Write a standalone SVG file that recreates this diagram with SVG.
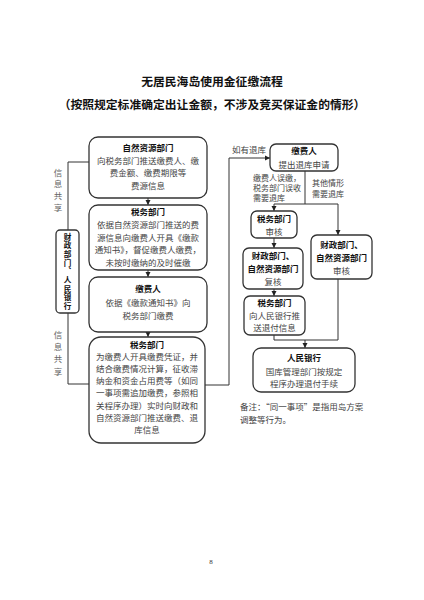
<svg xmlns="http://www.w3.org/2000/svg" width="424" height="600" viewBox="0 0 424 600">
<defs>
<style>
text{font-family:"Noto Sans CJK SC","Noto Sans",sans-serif;font-size:8.5px;fill:#444;}
.h{font-weight:bold;fill:#111;}
.c{text-anchor:middle;}
.s{font-size:8px;}
.t{font-size:11.8px;font-weight:bold;fill:#111;text-anchor:middle;}
.g{fill:#666;text-anchor:middle;}
.v{font-size:7.6px;writing-mode:vertical-rl;letter-spacing:1.1px;}
.box{fill:#fff;stroke:#333;stroke-width:1.3;}
.ln{fill:none;stroke:#333;stroke-width:1;}
</style>
<marker id="ah" markerWidth="6" markerHeight="6" refX="5" refY="3" orient="auto" markerUnits="userSpaceOnUse">
<path d="M0,0.5 L5,3 L0,5.5 Z" fill="#222"/>
</marker>
</defs>
<rect width="424" height="600" fill="#fff"/>
<g id="title">
<text class="t" x="212" y="86">无居民海岛使用金征缴流程</text>
<text class="t" x="212" y="109">（按照规定标准确定出让金额，不涉及竞买保证金的情形）</text>
</g>
<g id="connectors">
<line class="ln" x1="148" y1="198" x2="148" y2="205" marker-end="url(#ah)"/>
<line class="ln" x1="148" y1="270" x2="148" y2="277" marker-end="url(#ah)"/>
<line class="ln" x1="148" y1="332" x2="148" y2="337" marker-end="url(#ah)"/>
<polyline class="ln" points="89,162 68,162 68,230"/>
<polyline class="ln" points="68,313 68,384 89,384"/>
<polyline class="ln" points="205,385 229,385 229,158 270,158" marker-end="url(#ah)"/>
<polyline class="ln" points="305,171 305,204"/>
<line class="ln" x1="274" y1="204" x2="338" y2="204"/>
<line class="ln" x1="274" y1="204" x2="274" y2="211" marker-end="url(#ah)"/>
<line class="ln" x1="338" y1="204" x2="338" y2="235" marker-end="url(#ah)"/>
<line class="ln" x1="274" y1="238" x2="274" y2="248" marker-end="url(#ah)"/>
<line class="ln" x1="274" y1="289" x2="274" y2="296" marker-end="url(#ah)"/>
<polyline class="ln" points="274,335 274,340 338,340 338,279"/>
<line class="ln" x1="305" y1="340" x2="305" y2="348" marker-end="url(#ah)"/>
</g>
<g id="n1">
<rect class="box" x="89" y="137" width="118" height="61" rx="9"/>
<text class="h c" x="148" y="151">自然资源部门</text>
<text class="c" x="148" y="164">向税务部门推送缴费人、缴</text>
<text class="c" x="148" y="176">费金额、缴费期限等</text>
<text class="c" x="148" y="189">费源信息</text>
</g>
<g id="n2">
<rect class="box" x="89" y="205" width="118" height="65" rx="9"/>
<text class="h c" x="148" y="215">税务部门</text>
<text class="c" x="148" y="228">依据自然资源部门推送的费</text>
<text class="c" x="148" y="241">源信息向缴费人开具《缴款</text>
<text class="c" x="148" y="253">通知书》，督促缴费人缴费，</text>
<text class="c" x="148" y="266">未按时缴纳的及时催缴</text>
</g>
<g id="n3">
<rect class="box" x="89" y="277" width="118" height="55" rx="9"/>
<text class="h c" x="148" y="292">缴费人</text>
<text class="c" x="148" y="306">依据《缴款通知书》向</text>
<text class="c" x="148" y="319">税务部门缴费</text>
</g>
<g id="n4">
<rect class="box" x="89" y="337" width="116" height="106" rx="12"/>
<text class="h c" x="147" y="348">税务部门</text>
<text class="c" x="147" y="360">为缴费人开具缴费凭证，并</text>
<text class="c" x="147" y="372">结合缴费情况计算，征收滞</text>
<text class="c" x="147" y="384">纳金和资金占用费等（如同</text>
<text class="c" x="147" y="396">一事项需追加缴费，参照相</text>
<text class="c" x="147" y="409">关程序办理）实时向财政和</text>
<text class="c" x="147" y="421">自然资源部门推送缴费、退</text>
<text class="c" x="147" y="433">库信息</text>
</g>
<g id="n5">
<rect class="box" x="56" y="230" width="23" height="83" rx="4"/>
<text class="h c v" x="67.5" y="272">财政部门、人民银行</text>
</g>
<g id="side-labels">
<text class="g"><tspan x="58" y="176">信</tspan><tspan x="58" y="187">息</tspan><tspan x="58" y="199">共</tspan><tspan x="58" y="211">享</tspan></text>
<text class="g"><tspan x="58" y="338">信</tspan><tspan x="58" y="350">息</tspan><tspan x="58" y="362">共</tspan><tspan x="58" y="375">享</tspan></text>
<text x="232" y="153">如有退库</text>
<text class="s" x="253" y="181">缴费人误缴，</text>
<text class="s" x="253" y="191">税务部门误收</text>
<text class="s" x="253" y="201">需要退库</text>
<text class="s" x="312" y="186">其他情形</text>
<text class="s" x="312" y="197">需要退库</text>
</g>
<g id="r1">
<rect class="box" x="270" y="144" width="68" height="27" rx="6"/>
<text class="h c" x="304" y="154">缴费人</text>
<text class="c" x="304" y="168">提出退库申请</text>
</g>
<g id="r2">
<rect class="box" x="251" y="211" width="46" height="27" rx="6"/>
<text class="h c" x="274" y="222">税务部门</text>
<text class="c" x="274" y="235">审核</text>
</g>
<g id="r3">
<rect class="box" x="243" y="248" width="60" height="41" rx="6"/>
<text class="h c" x="273" y="259">财政部门、</text>
<text class="h c" x="273" y="272">自然资源部门</text>
<text class="c" x="273" y="285">复核</text>
</g>
<g id="r4">
<rect class="box" x="244" y="296" width="61" height="39" rx="6"/>
<text class="h c" x="274.5" y="306">税务部门</text>
<text class="c" x="274.5" y="319">向人民银行推</text>
<text class="c" x="274.5" y="331">送退付信息</text>
</g>
<g id="r5">
<rect class="box" x="311" y="235" width="61" height="44" rx="6"/>
<text class="h c" x="341.5" y="248">财政部门、</text>
<text class="h c" x="341.5" y="261">自然资源部门</text>
<text class="c" x="341.5" y="274">审核</text>
</g>
<g id="r6">
<rect class="box" x="253" y="348" width="102" height="44" rx="8"/>
<text class="h c" x="304" y="361">人民银行</text>
<text class="c" x="304" y="375">国库管理部门按规定</text>
<text class="c" x="304" y="387">程序办理退付手续</text>
</g>
<g id="note">
<text x="240" y="410">备注：“同一事项”是指用岛方案</text>
<text x="240" y="423">调整等行为。</text>
</g>
<text x="211" y="564" style="font-family:'Liberation Serif',serif;font-size:7px;fill:#333;text-anchor:middle">8</text>
</svg>
